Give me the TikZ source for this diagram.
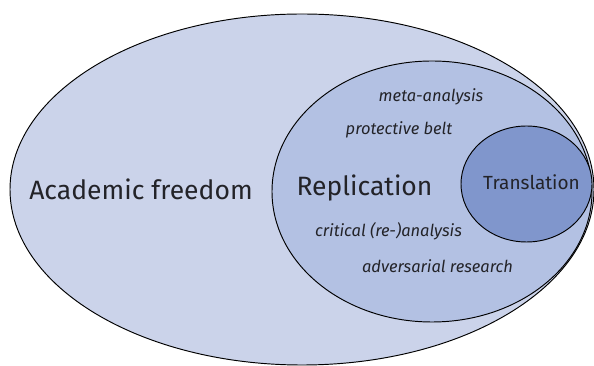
\documentclass[tikz,border=0pt]{standalone}
\usepackage{fontspec}
\setmainfont{Fira Sans}
\usetikzlibrary{shapes.geometric}
\definecolor{outerfill}{RGB}{203,211,234}
\definecolor{midfill}{RGB}{179,193,227}
\definecolor{innerfill}{RGB}{128,150,204}
\definecolor{inktext}{RGB}{35,35,40}
\tikzset{
  region/.style={shape=ellipse, draw=black, line width=0.95pt, inner sep=0pt},
  aspect/.style={anchor=base, text=inktext, font=\fontsize{16.5}{19}\selectfont\itshape},
}
\begin{document}
\begin{tikzpicture}[x=1pt,y=1pt]
\useasboundingbox (0,0) rectangle (594,366);
% nested regions
\node[region, fill=outerfill, minimum width=584pt, minimum height=351pt] (freedom) at (302,176.5) {};
\node[region, fill=midfill, minimum width=320pt, minimum height=261pt] (replication) at (432,174.5) {};
\node[region, fill=innerfill, minimum width=131pt, minimum height=116pt] (translation) at (526.5,182) {};
% region labels
\node[anchor=base, text=inktext, font=\fontsize{26.5}{31}\selectfont] (tfreedom) at (141,166) {Academic freedom};
\node[anchor=base, text=inktext, font=\fontsize{26.5}{31}\selectfont] (trepl) at (364.5,170) {Replication};
\node[anchor=base, text=inktext, font=\fontsize{19}{23}\selectfont] (ttrans) at (531.5,176) {Translation};
% practices within replication
\node[aspect] (meta) at (431,264) {meta-analysis};
\node[aspect] (belt) at (399,231) {protective belt};
\node[aspect] (crit) at (388.5,129) {critical (re-)analysis};
\node[aspect] (adv) at (437.5,93) {adversarial research};
\end{tikzpicture}
\end{document}
